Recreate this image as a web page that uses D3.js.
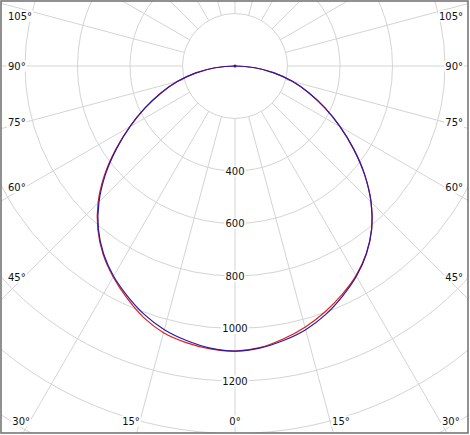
<!DOCTYPE html>
<html>
<head>
<meta charset="utf-8">
<script src="https://cdn.jsdelivr.net/npm/d3@7"></script>
<style>
  html, body { margin: 0; padding: 0; background: #fff; }
  svg { display: block; }
  text { font-family: "DejaVu Sans", Verdana, sans-serif; font-size: 10px; fill: #111; }
</style>
</head>
<body>
<svg id="chart" width="470" height="435"></svg>
<script>
// ---- data ----
const gammaAngles = [0, 5, 10, 15, 20, 25, 30, 35, 40, 45, 50, 55, 60, 65, 70, 75, 80, 85, 90];
// red curve: C0 (right half) and C180 (left half)
const redC0    = [1086, 1077, 1056, 1030, 998, 962, 922, 872, 810, 733, 645, 552, 462, 378, 300, 226, 151, 76, 0];
const redC180  = [1086, 1082, 1070, 1052, 1019, 975, 928, 876, 813, 738, 650, 555, 463, 378, 300, 226, 151, 76, 0];
// blue curve: C90 (right half) and C270 (left half)
const blueC90  = [1086, 1079, 1062, 1040, 1008, 968, 925, 873, 810, 733, 645, 552, 462, 378, 300, 226, 151, 76, 0];
const blueC270 = [1086, 1079, 1062, 1040, 1008, 968, 925, 873, 810, 733, 645, 552, 462, 378, 300, 226, 151, 76, 0];
const ringValues = [200, 400, 600, 800, 1000, 1200, 1400, 1600, 1800, 2000];
const ringLabels = [400, 600, 800, 1000, 1200];
const angleLabels = [0, 15, 30, 45, 60, 75, 90, 105];
const spokeStep = 15;

// ---- layout ----
const W = 470, H = 435;
const cx = 235, cy = 66;
const frame = {x: 1, y: 1, w: 467, h: 432};
const svg = d3.select("#chart");

const r = d3.scaleLinear().domain([0, 1400]).range([0, 367.5]);
const rad = d3.scaleLinear().domain([0, 180]).range([0, Math.PI]);

svg.append("rect").attr("width", W).attr("height", H).attr("fill", "#fff");
svg.append("defs").append("clipPath").attr("id", "clip")
  .append("rect").attr("x", frame.x).attr("y", frame.y).attr("width", frame.w).attr("height", frame.h);

const g = svg.append("g").attr("clip-path", "url(#clip)");
const grid = g.append("g").attr("transform", `translate(${cx},${cy})`);

// rings
grid.selectAll("circle.ring").data(ringValues).join("circle")
  .attr("class", "ring")
  .attr("r", d => r(d))
  .attr("fill", "none")
  .attr("stroke", "#d4d4d4")
  .attr("stroke-width", 1);

// spokes
const spokes = d3.range(0, 360, spokeStep);
grid.selectAll("line.spoke").data(spokes).join("line")
  .attr("class", "spoke")
  .attr("x1", d => r(200) * Math.sin(rad(d)))
  .attr("y1", d => r(200) * Math.cos(rad(d)))
  .attr("x2", d => r(2400) * Math.sin(rad(d)))
  .attr("y2", d => r(2400) * Math.cos(rad(d)))
  .attr("stroke", "#d4d4d4")
  .attr("stroke-width", 1);

// curves (closed loop: left half from 90° down to 0°, then right half back up)
function curvePoints(right, left) {
  const n = gammaAngles.length;
  const pts = [];
  for (let i = n - 1; i >= 0; i--) pts.push({a: Math.PI + rad(gammaAngles[i]), v: left[i]});
  for (let i = 1; i < n - 1; i++) pts.push({a: Math.PI - rad(gammaAngles[i]), v: right[i]});
  return pts;
}
const line = d3.lineRadial().angle(d => d.a).radius(d => r(d.v)).curve(d3.curveCatmullRomClosed.alpha(0.5));

const curves = g.append("g").attr("transform", `translate(${cx},${cy})`);
curves.append("path").datum(curvePoints(redC0, redC180))
  .attr("d", line).attr("fill", "none").attr("stroke", "#e0201c").attr("stroke-width", 1.2);
curves.append("path").datum(curvePoints(blueC90, blueC270))
  .attr("d", line).attr("fill", "none").attr("stroke", "#2a1aa8").attr("stroke-width", 1.2);
curves.append("circle").attr("r", 1.6).attr("fill", "#2a1aa8");

// label helper with white background
function label(x, y, txt, anchor) {
  const t = svg.append("text").attr("x", x).attr("y", y).attr("text-anchor", anchor)
    .attr("dominant-baseline", "central").text(txt);
  const b = t.node().getBBox();
  svg.insert("rect", () => t.node())
    .attr("x", b.x - 1).attr("y", b.y).attr("width", b.width + 2).attr("height", b.height)
    .attr("fill", "#fff");
}

// ring value labels along 0° axis
ringLabels.forEach(v => label(cx, cy + r(v), v, "middle"));

// angle labels
const sideDx = 211, bottomY = 421, leftX = 8, rightX = 463;
angleLabels.forEach(a => {
  const txt = a + "°";
  if (a === 0) { label(cx, bottomY, txt, "middle"); return; }
  const fromHoriz = rad(90 - a);
  const ySide = cy + sideDx * Math.tan(fromHoriz);
  if (ySide <= bottomY) {
    const y = Math.max(16, ySide);
    label(leftX, y, txt, "start");
    label(rightX, y, txt, "end");
  } else {
    const dx = (bottomY - cy) * Math.tan(rad(a));
    label(cx - dx, bottomY, txt, "end");
    label(cx + dx + 2, bottomY, txt, "start");
  }
});

// frame
svg.append("rect").attr("x", frame.x).attr("y", frame.y).attr("width", frame.w).attr("height", frame.h)
  .attr("fill", "none").attr("stroke", "#6e6e6e").attr("stroke-width", 1.5);
</script>
</body>
</html>
